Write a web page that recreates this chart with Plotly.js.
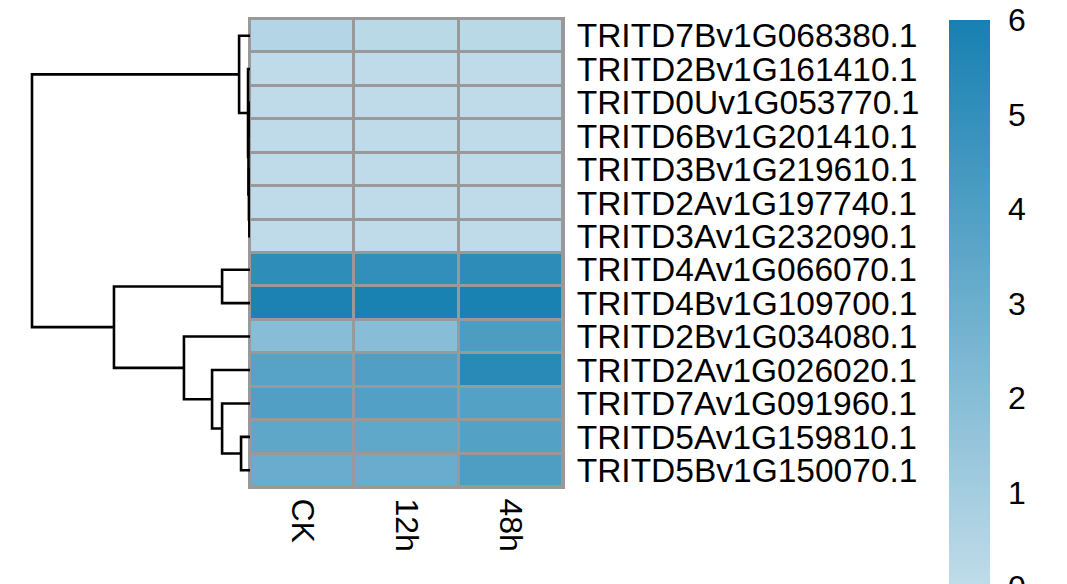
<!DOCTYPE html>
<html>
<head>
<meta charset="utf-8">
<script src="https://cdn.plot.ly/plotly-3.0.1.min.js"></script>
<style>html,body{margin:0;padding:0;background:#fff;}#chart{width:1067px;height:584px;}</style>
</head>
<body>
<div id="chart"></div>
<script>
// ---- data ----
const genes = [
  "TRITD7Bv1G068380.1","TRITD2Bv1G161410.1","TRITD0Uv1G053770.1","TRITD6Bv1G201410.1",
  "TRITD3Bv1G219610.1","TRITD2Av1G197740.1","TRITD3Av1G232090.1","TRITD4Av1G066070.1",
  "TRITD4Bv1G109700.1","TRITD2Bv1G034080.1","TRITD2Av1G026020.1","TRITD7Av1G091960.1",
  "TRITD5Av1G159810.1","TRITD5Bv1G150070.1"
];
const samples = ["CK","12h","48h"];
const valCK  = [0.45, 0.05, 0.05, 0.05, 0.05, 0.05, 0.05, 5.15, 5.85, 2.0, 3.75, 3.95, 3.45, 3.1];
const val12h = [0.2, 0.05, 0.05, 0.05, 0.05, 0.05, 0.05, 5.05, 5.9, 2.0, 3.95, 3.9, 3.4, 3.1];
const val48h = [0.2, 0.05, 0.05, 0.05, 0.05, 0.05, 0.05, 5.2, 5.9, 4.1, 5.35, 3.85, 3.85, 4.05];
// hclust-style merges: negative = leaf (1-based row), positive = earlier merge (1-based)
const mergeLeft   = [-6, -5, -3, 3, -2, -1, -13, -12, -11, -10, -8, 11, 6];
const mergeRight  = [-7,  1, -4, 2,  4,  5, -14,   7,   8,   9, -9, 10, 12];
const mergeHeight = [0.03, 0.05, 0.04, 0.07, 0.09, 0.5, 0.41, 1.28, 1.74, 3.03, 1.28, 6.24, 10.0];
const colorbarTicks = [0,1,2,3,4,5,6];

// ---- build ----
const W = 1067, H = 584;
const z = genes.map((g,i)=>[valCK[i], val12h[i], val48h[i]]);

// dendrogram segments
const pos = [], hgt = [];
const dx = [], dy = [];
function nodeInfo(id){
  if (id < 0) return {y: -id - 1, h: 0};
  return {y: pos[id-1], h: hgt[id-1]};
}
for (let k=0;k<mergeLeft.length;k++){
  const a = nodeInfo(mergeLeft[k]), b = nodeInfo(mergeRight[k]);
  const h = mergeHeight[k];
  dx.push(a.h, h, h, b.h, null);
  dy.push(a.y, a.y, b.y, b.y, null);
  pos.push((a.y + b.y)/2); hgt.push(h);
}

const font = "Liberation Sans, Arial, sans-serif";
const heatL = 250, heatR = 563, heatT = 19, heatB = 487;
const pxPerUnit = 21.8;

const heat = {
  type: "heatmap", z: z, x: [0,1,2], y: genes.map((g,i)=>i),
  xaxis: "x", yaxis: "y",
  zmin: 0, zmax: 6,
  colorscale: [[0,"#c0dce9"],[1,"#1780b2"]],
  xgap: 3, ygap: 3,
  hoverongaps: false,
  colorbar: {
    x: 949/W, xanchor: "left", xpad: 0,
    y: (H-20)/H, yanchor: "top", ypad: 0,
    len: 567, lenmode: "pixels",
    thickness: 41, thicknessmode: "pixels",
    outlinewidth: 0,
    tickvals: colorbarTicks, ticktext: colorbarTicks.map(String),
    ticks: "outside", ticklen: 12, tickcolor: "rgba(0,0,0,0)",
    tickfont: {family: font, size: 32, color: "#000"},
    ticklabeloverflow: "allow"
  }
};
const dend = {
  type: "scatter", mode: "lines", x: dx, y: dy,
  xaxis: "x2", yaxis: "y",
  line: {color: "#000", width: 2.6},
  hoverinfo: "skip", showlegend: false
};

const layout = {
  width: W, height: H,
  margin: {l:0, r:0, t:0, b:0},
  paper_bgcolor: "#fff",
  plot_bgcolor: "#fff",
  showlegend: false,
  font: {family: font, size: 32, color: "#000"},
  shapes: [{
    type: "rect", xref: "x domain", yref: "y domain", x0: 0, x1: 1, y0: 0, y1: 1,
    fillcolor: "#999999", line: {width: 0}, layer: "below"
  }],
  xaxis: {
    domain: [heatL/W, heatR/W], range: [-0.5, 2.5],
    tickvals: [0,1,2], ticktext: samples, tickangle: 90,
    ticks: "", showgrid: false, zeroline: false,
    showline: true, mirror: true, linecolor: "#999999", linewidth: 2,
    tickfont: {family: font, size: 32, color: "#000"},
    ticklabelstandoff: 3, anchor: "y"
  },
  yaxis: {
    domain: [(H-heatB)/H, (H-heatT)/H], range: [13.5, -0.5],
    tickvals: genes.map((g,i)=>i), ticktext: genes, side: "right",
    ticks: "", showgrid: false, zeroline: false,
    showline: true, mirror: true, linecolor: "#999999", linewidth: 2,
    tickfont: {family: font, size: 33.5, color: "#000"},
    ticklabelstandoff: 5, anchor: "x"
  },
  xaxis2: {
    domain: [0, heatL/W], range: [heatL/pxPerUnit, 0],
    showticklabels: false, ticks: "", showgrid: false, zeroline: false, showline: false,
    anchor: "y"
  }
};
Plotly.newPlot("chart", [heat, dend], layout, {displayModeBar: false, staticPlot: true});
</script>
</body>
</html>
